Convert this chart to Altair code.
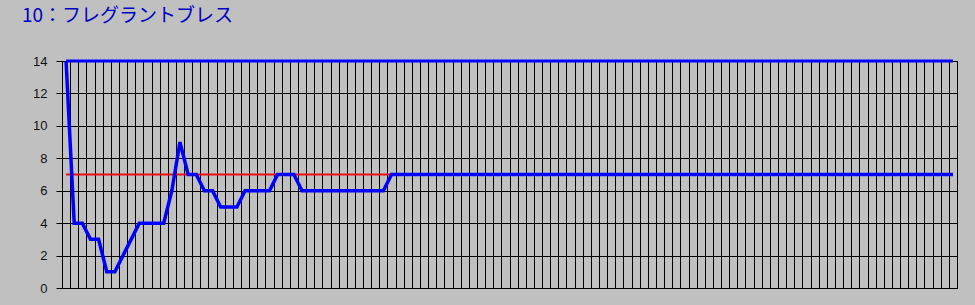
import altair as alt
import pandas as pd

title_text = "10：フレグラントブレス"

values = [14, 4, 4, 3, 3, 1, 1, 2, 3, 4,
          4, 4, 4, 6, 9, 7, 7, 6, 6, 5,
          5, 5, 6, 6, 6, 6, 7, 7, 7, 6,
          6, 6, 6, 6, 6, 6, 6, 6, 6, 6,
          7, 7, 7, 7, 7, 7, 7, 7, 7, 7,
          7, 7, 7, 7, 7, 7, 7, 7, 7, 7,
          7, 7, 7, 7, 7, 7, 7, 7, 7, 7,
          7, 7, 7, 7, 7, 7, 7, 7, 7, 7,
          7, 7, 7, 7, 7, 7, 7, 7, 7, 7,
          7, 7, 7, 7, 7, 7, 7, 7, 7, 7,
          7, 7, 7, 7, 7, 7, 7, 7, 7, 7]
max_line = [14] * len(values)
avg_line = [7] * len(values)
y_ticks = [0, 2, 4, 6, 8, 10, 12, 14]

n = len(values)
idx = list(range(n))
df = pd.DataFrame({"i": idx, "v": values, "mx": max_line, "avg": avg_line})

grid_vals = [k - 0.5 for k in range(n + 1)]

xscale = alt.Scale(domain=[-0.5, n - 0.5], nice=False, zero=False)
yscale = alt.Scale(domain=[0, 14], nice=False)

x_enc = alt.X("i:Q", scale=xscale,
              axis=alt.Axis(values=grid_vals, tickCount=500, labels=False, ticks=False, title=None,
                            grid=True, gridColor="black", gridOpacity=1, gridWidth=1,
                            domainColor="black", domainWidth=1))
y_axis = alt.Axis(values=y_ticks, tickCount=50, format="d", labelOverlap=False, title=None,
                  grid=True, gridColor="black", gridOpacity=1,
                  gridWidth=1, domainColor="black", tickColor="black", tickSize=6,
                  labelPadding=9, labelFont="Liberation Sans", labelFontSize=13,
                  labelColor="#101010")

base = alt.Chart(df)
red = base.mark_line(color="#E81010", strokeWidth=2).encode(
    x=x_enc, y=alt.Y("avg:Q", scale=yscale, axis=y_axis))
mx = base.mark_line(color="#0000FF", strokeWidth=3).encode(
    x="i:Q", y=alt.Y("mx:Q", scale=yscale))
main = base.mark_line(color="#0000FF", strokeWidth=3.5, strokeJoin="miter").encode(
    x="i:Q", y=alt.Y("v:Q", scale=yscale))

chart = alt.layer(red, mx, main).properties(
    width=895, height=227,
    autosize="none",
    padding={"left": 62, "top": 61, "right": 18, "bottom": 17},
    background="#C0C0C0",
    title=alt.TitleParams(title_text, anchor="start", frame="group", dx=-40, offset=28,
                          font="Noto Sans CJK JP", fontSize=19, fontWeight="normal",
                          color="#0000C0"),
).configure_view(stroke="black", strokeWidth=1)

chart.save("out.html", embed_options={"renderer": "svg", "actions": False})
